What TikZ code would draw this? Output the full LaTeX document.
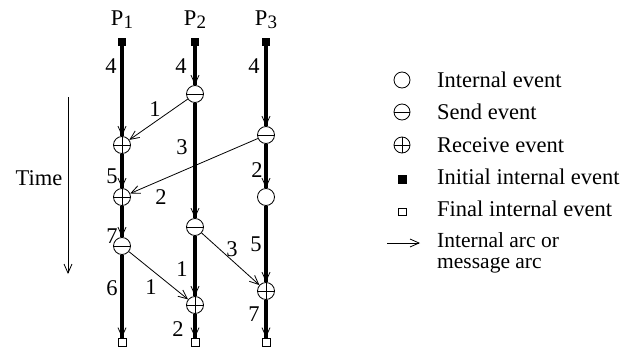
\documentclass[tikz,border=0pt]{standalone}
\usepackage{fontspec}
\setmainfont{Liberation Serif}
\usetikzlibrary{arrows.meta}
\newcommand{\procsub}[1]{P\raisebox{-3.5pt}{\fontsize{19}{19}\selectfont #1}}
\begin{document}
\begin{tikzpicture}[x=1pt,y=-1pt,
  every node/.style={font=\fontsize{22.5}{23}\selectfont},
  ev/.style={circle,draw,line width=0.8pt,fill=white,minimum size=17pt,inner sep=0pt},
  sendev/.style={ev,path picture={\draw[line width=0.8pt] (path picture bounding box.west) -- (path picture bounding box.east);}},
  recvev/.style={ev,path picture={\draw[line width=0.8pt] (path picture bounding box.west) -- (path picture bounding box.east) (path picture bounding box.north) -- (path picture bounding box.south);}},
  initev/.style={rectangle,fill=black,minimum size=8.5pt,inner sep=0pt},
  finev/.style={rectangle,draw,fill=white,line width=0.8pt,minimum size=8pt,inner sep=0pt},
  procline/.style={line width=3.6pt},
  tip/.style={-{Straight Barb[length=9pt,width=8pt,line width=0.8pt]}, line width=0.8pt},
  lbl/.style={inner sep=0pt}
]
\useasboundingbox (0,0) rectangle (632,351);

% process headers
\node[lbl,anchor=base] (p1) at (122,25) {\procsub{1}};
\node[lbl,anchor=base] (p2) at (195,25) {\procsub{2}};
\node[lbl,anchor=base] (p3) at (266,25) {\procsub{3}};

% events
\node[initev] (i1) at (122,42) {};
\node[initev] (i2) at (195,42) {};
\node[initev] (i3) at (266,42) {};
\node[recvev] (a1) at (122,145) {};
\node[recvev] (a2) at (122,197) {};
\node[sendev] (a3) at (122,246) {};
\node[finev] (f1) at (122,342) {};
\node[sendev] (b1) at (195,94) {};
\node[sendev] (b2) at (195,227) {};
\node[recvev] (b3) at (195,305) {};
\node[finev] (f2) at (195,342) {};
\node[sendev] (c1) at (266,135) {};
\node[ev] (c2) at (266,197) {};
\node[recvev] (c3) at (266,291) {};
\node[finev] (f3) at (266,342) {};

% process arcs
\foreach \a/\b in {i1/a1,a1/a2,a2/a3,a3/f1,i2/b1,b1/b2,b2/b3,b3/f2,i3/c1,c1/c2,c2/c3,c3/f3}{
  \draw[procline] (\a) -- (\b);
  \draw[tip] (\a) -- (\b);
}

% message arcs
\draw[tip] (b1) -- (a1);
\draw[tip] (c1) -- (a2);
\draw[tip] (a3) -- (b3);
\draw[tip] (b2) -- (c3);

% weights on process arcs
\node[lbl] (w11) at (111,66) {4};
\node[lbl] (w12) at (112,176) {5};
\node[lbl] (w13) at (112,236) {7};
\node[lbl] (w14) at (112,288) {6};
\node[lbl] (w21) at (181,66) {4};
\node[lbl] (w22) at (182,147) {3};
\node[lbl] (w23) at (182,269) {1};
\node[lbl] (w24) at (178,329) {2};
\node[lbl] (w31) at (254,66) {4};
\node[lbl] (w32) at (257,170) {2};
\node[lbl] (w33) at (256,244) {5};
\node[lbl] (w34) at (254,314) {7};

% weights on message arcs
\node[lbl] (m1) at (155,109) {1};
\node[lbl] (m2) at (161,197) {2};
\node[lbl] (m3) at (151,287) {1};
\node[lbl] (m4) at (232,249) {3};

% time axis
\coordinate (t0) at (68,97);
\coordinate (t1) at (68,274);
\draw[tip] (t0) -- (t1);
\node[lbl] (time) at (39,178) {Time};

% legend
\node[ev,minimum size=16pt] (l1) at (402,80) {};
\node[sendev,minimum size=16pt] (l2) at (402,112) {};
\node[recvev,minimum size=16pt] (l3) at (402,145) {};
\node[initev,minimum size=9pt] (l4) at (402,179) {};
\node[finev,minimum size=7.5pt] (l5) at (402.5,212) {};
\coordinate (l6a) at (387,243);
\coordinate (l6b) at (420,243);
\draw[tip] (l6a) -- (l6b);
\node[lbl,anchor=base west] (lt1) at (437,87) {Internal event};
\node[lbl,anchor=base west] (lt2) at (437,119) {Send event};
\node[lbl,anchor=base west] (lt3) at (437,152) {Receive event};
\node[lbl,anchor=base west] (lt4) at (437,184) {Initial internal event};
\node[lbl,anchor=base west] (lt5) at (437,216) {Final internal event};
\node[lbl,anchor=base west,font=\fontsize{21.5}{22}\selectfont] (lt6) at (437,247) {Internal arc or};
\node[lbl,anchor=base west,font=\fontsize{21.5}{22}\selectfont] (lt7) at (437,268) {message arc};
\end{tikzpicture}
\end{document}
